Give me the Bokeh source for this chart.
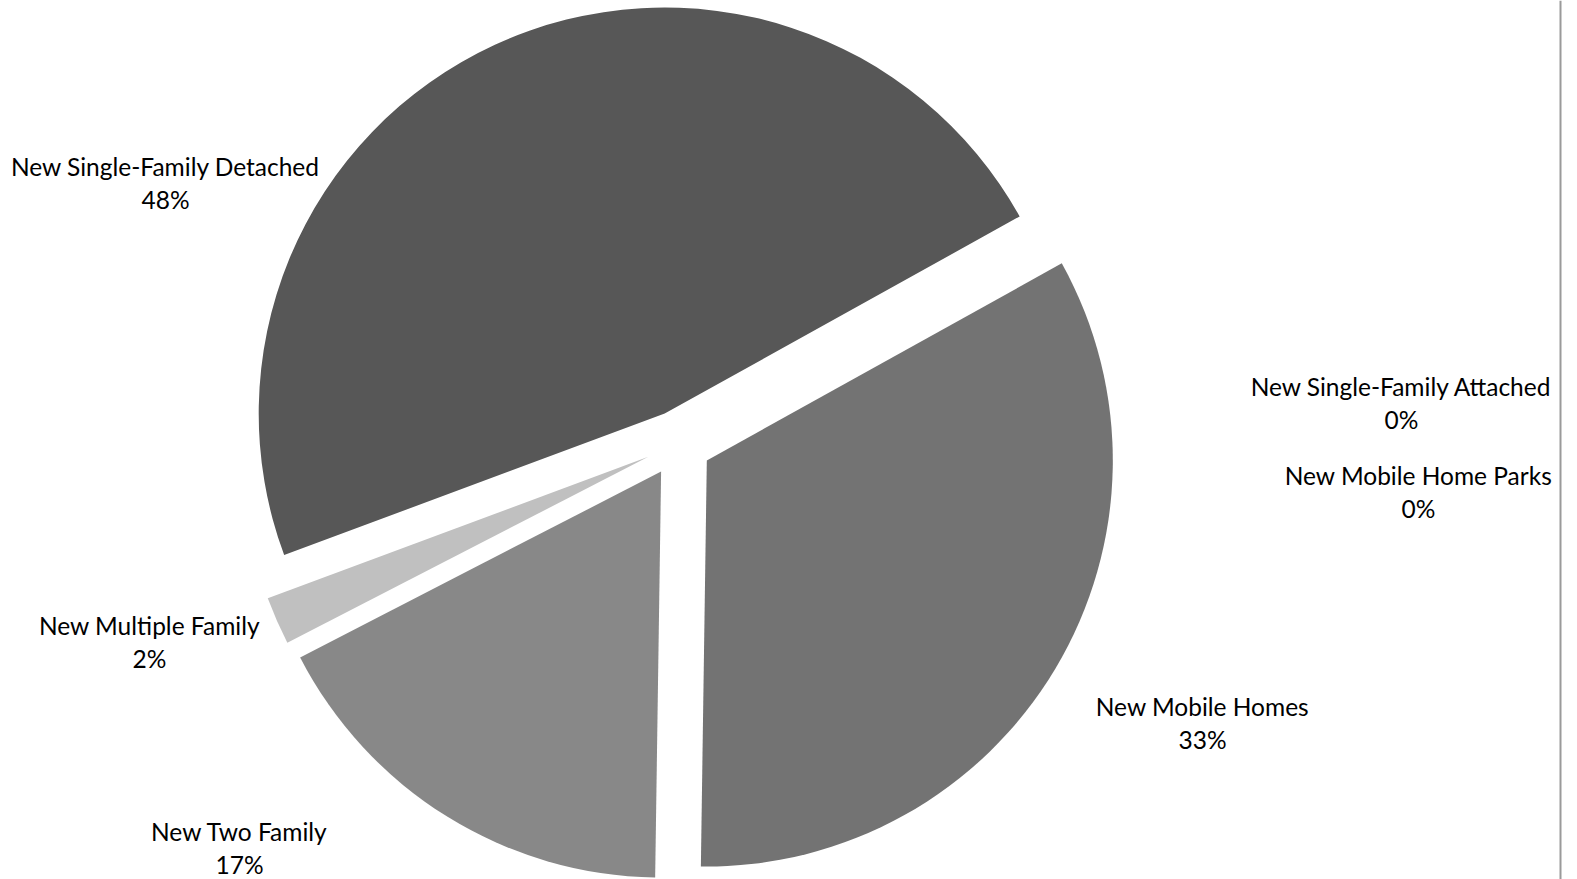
from bokeh.plotting import figure
from bokeh.models import Range1d, Span, ColumnDataSource
from bokeh.core.properties import value
from bokeh.embed import file_html
from bokeh.resources import INLINE
import math

# ---- data (clockwise order, as drawn) ----
categories = ["New Single-Family Detached", "New Single-Family Attached",
              "New Mobile Home Parks", "New Mobile Homes",
              "New Two Family", "New Multiple Family"]
shares = [47.6, 0.0, 0.0, 33.3, 17.2, 1.9]
colors = ["#575757", "#6a6a6a", "#7a7a7a", "#737373", "#888888", "#c0c0c0"]

# ---- layout (screen pixels) ----
W, H = 1577, 879
CX, CY = 678, 443          # pie centre
R = 406                    # radius
EXPLODE = 33               # explosion offset
FIRST_ANGLE = 200.4        # math degrees where the first slice starts (drawn clockwise)
label_pos = {              # label centre (screen px), first line
    "New Single-Family Detached": (165, 166),
    "New Single-Family Attached": (1401, 386),
    "New Mobile Home Parks": (1418, 475),
    "New Mobile Homes": (1202, 706),
    "New Two Family": (239, 831),
    "New Multiple Family": (149, 625),
}
LINE_GAP = 33

total = sum(shares)

p = figure(width=W, height=H, x_range=Range1d(0, W), y_range=Range1d(0, H),
           output_backend="svg", toolbar_location=None,
           x_axis_location=None, y_axis_location=None, min_border=0,
           background_fill_color="white", border_fill_color="white")
p.outline_line_color = None
p.grid.visible = False

xs, ys, st, en, cols = [], [], [], [], []
a = FIRST_ANGLE
for cat, v, c in zip(categories, shares, colors):
    span = v / total * 360.0
    start, end = a - span, a
    a -= span
    if v <= 0:
        continue
    mid = math.radians((start + end) / 2)
    xs.append(CX + EXPLODE * math.cos(mid))
    ys.append(H - CY + EXPLODE * math.sin(mid))
    st.append(math.radians(start))
    en.append(math.radians(end))
    cols.append(c)

src = ColumnDataSource(dict(x=xs, y=ys, start=st, end=en, color=cols))
p.wedge(x="x", y="y", radius=R, radius_units="screen", start_angle="start",
        end_angle="end", direction="anticlock", fill_color="color",
        line_color=None, source=src)

lx, ly1, ly2, names, pcts = [], [], [], [], []
for cat, v in zip(categories, shares):
    x0, y0 = label_pos[cat]
    lx.append(x0)
    ly1.append(H - y0)
    ly2.append(H - y0 - LINE_GAP)
    names.append(cat)
    pcts.append(f"{round(v / total * 100):d}%")

p.text(x=lx, y=ly1, text=names, text_align="center", text_baseline="middle",
       text_font=value("Lato"), text_font_size="24.5px", text_color="#000000")
p.text(x=lx, y=ly2, text=pcts, text_align="center", text_baseline="middle",
       text_font=value("Lato"), text_font_size="24.5px", text_color="#000000")

p.add_layout(Span(location=1560, dimension="height", line_color="#9a9a9a", line_width=2))

open("out.html", "w").write(file_html(p, INLINE))
